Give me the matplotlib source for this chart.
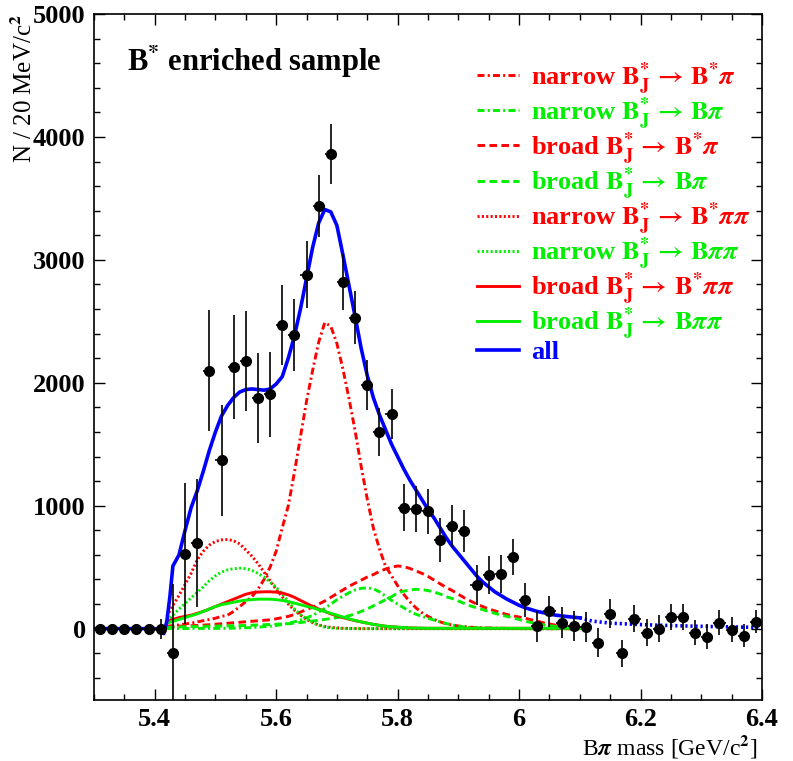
import matplotlib
matplotlib.use('Agg')
import matplotlib.pyplot as plt
import numpy as np

plt.rcParams['font.family'] = ['Liberation Serif', 'DejaVu Serif']
plt.rcParams['font.weight'] = 'bold'
plt.rcParams['mathtext.fontset'] = 'stix'

# --- data points, 20 MeV bins ---
bin_x = np.linspace(5.31, 6.39, 55)
counts = [0, 0, 0, 0, 0, 0, -200, 610, 700, 2100,
          1370, 2130, 2175, 1875, 1905, 2470, 2385, 2880, 3440, 3860,
          2820, 2530, 1985, 1600, 1745, 985, 975, 955, 720, 832,
          795, 355, 433, 442, 585, 236, 18, 140, 49, 24,
          16, -114, 122, -200, 81, -33, 0, 98, 98, -33,
          -65, 49, -8, -57, 57]
errors = [0, 0, 0, 0, 0, 80, 560, 575, 520, 495,
          450, 425, 408, 367, 345, 323, 293, 272, 253, 245,
          226, 214, 204, 197, 203, 190, 188, 185, 178, 170,
          168, 160, 155, 155, 147, 138, 127, 127, 127, 122,
          122, 117, 120, 108, 110, 110, 110, 105, 105, 100,
          100, 100, 100, 95, 95]

# --- fit components, sampled every 10 MeV from 5.42 to 6.10 ---
comp_x = np.linspace(5.42, 6.10, 69)
narrow_bstpi = [20, 25, 30, 38, 45, 55, 65, 75, 85, 100,
                110, 140, 180, 220, 260, 320, 400, 500, 630, 820,
                1000, 1270, 1560, 1850, 2100, 2330, 2490, 2460, 2320, 2110,
                1870, 1610, 1320, 1055, 820, 650, 510, 430, 350, 280,
                220, 170, 130, 100, 75, 55, 40, 30, 22, 16,
                12, 9, 7, 5, 4, 3, 2, 2, 1, 1,
                1, 1, 0, 0, 0, 0, 0, 0, 0]
narrow_bpi = [1, 1, 1, 1, 2, 2, 2, 2, 2, 3,
              3, 4, 5, 7, 9, 12, 16, 20, 26, 34,
              44, 56, 70, 88, 108, 135, 165, 200, 235, 265,
              292, 315, 328, 332, 325, 300, 265, 230, 200, 170,
              140, 118, 100, 85, 70, 55, 42, 30, 20, 14,
              10, 7, 5, 3, 2, 1, 1, 0, 0, 0,
              0, 0, 0, 0, 0, 0, 0, 0, 0]
broad_bstpi = [15, 18, 20, 22, 24, 26, 29, 32, 36, 40,
               44, 48, 52, 56, 60, 64, 68, 72, 80, 90,
               100, 115, 135, 155, 175, 200, 225, 255, 285, 315,
               345, 370, 395, 420, 440, 465, 485, 500, 510, 505,
               490, 470, 450, 425, 395, 365, 335, 310, 280, 250,
               225, 200, 180, 160, 145, 130, 115, 103, 95, 85,
               72, 60, 48, 38, 28, 20, 12, 6, 2]
broad_bpi = [10, 12, 14, 16, 17, 18, 19, 20, 21, 22,
             23, 24, 25, 26, 28, 30, 32, 34, 36, 38,
             40, 45, 50, 56, 62, 68, 75, 82, 90, 97,
             105, 120, 140, 160, 185, 210, 235, 260, 290, 305,
             315, 320, 318, 310, 298, 282, 260, 245, 225, 205,
             185, 170, 155, 140, 125, 112, 100, 88, 75, 60,
             50, 40, 32, 24, 18, 12, 7, 3, 1]
narrow_bstpipi = [100, 190, 270, 360, 450, 560, 630, 680, 710, 722,
                  725, 715, 690, 640, 590, 530, 460, 390, 320, 260,
                  200, 150, 110, 75, 50, 30, 18, 10, 6, 3,
                  2, 1, 0, 0, 0, 0, 0, 0, 0, 0,
                  0, 0, 0, 0, 0, 0, 0, 0, 0, 0,
                  0, 0, 0, 0, 0, 0, 0, 0, 0, 0,
                  0, 0, 0, 0, 0, 0, 0, 0, 0]
narrow_bpipi = [60, 110, 160, 205, 250, 295, 340, 390, 430, 460,
                478, 488, 492, 488, 475, 450, 420, 380, 335, 285,
                220, 160, 115, 80, 50, 28, 12, 6, 3, 1,
                0, 0, 0, 0, 0, 0, 0, 0, 0, 0,
                0, 0, 0, 0, 0, 0, 0, 0, 0, 0,
                0, 0, 0, 0, 0, 0, 0, 0, 0, 0,
                0, 0, 0, 0, 0, 0, 0, 0, 0]
broad_bstpipi = [60, 75, 90, 100, 110, 125, 140, 160, 180, 200,
                 220, 240, 260, 280, 292, 298, 300, 300, 297, 290,
                 275, 255, 230, 205, 182, 160, 140, 120, 105, 90,
                 77, 65, 55, 45, 35, 27, 20, 15, 12, 9,
                 6, 5, 4, 3, 3, 3, 3, 3, 3, 3,
                 3, 3, 3, 3, 3, 3, 3, 3, 3, 3,
                 3, 3, 3, 3, 3, 3, 3, 3, 3]
broad_bpipi = [45, 60, 75, 90, 105, 120, 140, 160, 180, 195,
               205, 215, 225, 232, 236, 240, 240, 240, 236, 230,
               220, 208, 195, 182, 170, 155, 140, 125, 110, 95,
               80, 67, 55, 45, 35, 27, 20, 15, 12, 9,
               6, 5, 4, 3, 3, 3, 3, 3, 3, 3,
               3, 3, 3, 3, 3, 3, 3, 3, 3, 3,
               3, 3, 3, 3, 3, 3, 3, 3, 3]

# --- total fit ---
all_x = np.concatenate([np.linspace(5.30, 5.41, 12), [5.415, 5.42, 5.425],
                        np.linspace(5.43, 6.10, 68)])
all_y = [0, 0, 0, 0, 0, 0, 0, 0, 0, 0, 0, -10,
         -40, 60, 260,
         510, 600, 800, 985, 1120, 1280, 1450, 1600, 1730, 1815,
         1880, 1925, 1945, 1950, 1945, 1940, 1950, 1990, 2050, 2200,
         2380, 2600, 2850, 3100, 3300, 3410, 3390, 3280, 3040, 2790,
         2540, 2280, 2060, 1880, 1740, 1620, 1500, 1400, 1300, 1210,
         1130, 1050, 970, 900, 820, 740, 670, 610, 550, 490,
         430, 380, 340, 300, 270, 240, 215, 190, 170, 155,
         140, 130, 120, 110, 104, 98, 93, 88]
tail_x = [6.10, 6.12, 6.15, 6.20, 6.25, 6.30, 6.35, 6.40]
tail_y = [88, 62, 45, 33, 25, 19, 14, 10]

RED, GREEN, BLUE = '#ff0000', '#00ee00', '#0000ff'
dashdot = (2.4, 1.1, 0.7, 1.1)
dashed = (2.6, 1.5)
dotted = (0.7, 0.8)

fig = plt.figure(figsize=(7.93, 7.61), dpi=100)
ax = fig.add_axes([0.1185, 0.0802, 0.8424, 0.9014])

lw = 2.1
curves = [
    (narrow_bstpi, RED, dashdot, r'narrow $\mathbf{B}_\mathbf{J}^{*}\,\rightarrow\,\mathbf{B}^{*}\pi$'),
    (narrow_bpi, GREEN, dashdot, r'narrow $\mathbf{B}_\mathbf{J}^{*}\,\rightarrow\,\mathbf{B}\pi$'),
    (broad_bstpi, RED, dashed, r'broad $\mathbf{B}_\mathbf{J}^{*}\,\rightarrow\,\mathbf{B}^{*}\pi$'),
    (broad_bpi, GREEN, dashed, r'broad $\mathbf{B}_\mathbf{J}^{*}\,\rightarrow\,\mathbf{B}\pi$'),
    (narrow_bstpipi, RED, dotted, r'narrow $\mathbf{B}_\mathbf{J}^{*}\,\rightarrow\,\mathbf{B}^{*}\pi\pi$'),
    (narrow_bpipi, GREEN, dotted, r'narrow $\mathbf{B}_\mathbf{J}^{*}\,\rightarrow\,\mathbf{B}\pi\pi$'),
    (broad_bstpipi, RED, None, r'broad $\mathbf{B}_\mathbf{J}^{*}\,\rightarrow\,\mathbf{B}^{*}\pi\pi$'),
    (broad_bpipi, GREEN, None, r'broad $\mathbf{B}_\mathbf{J}^{*}\,\rightarrow\,\mathbf{B}\pi\pi$'),
]
handles = []
for yv, col, dash, lab in curves:
    if dash is None:
        h, = ax.plot(comp_x, yv, color=col, lw=lw, label=lab)
    else:
        h, = ax.plot(comp_x, yv, color=col, lw=lw, dashes=dash, label=lab)
    handles.append(h)

h_all, = ax.plot(all_x, all_y, color=BLUE, lw=2.6, label='all')
ax.plot(tail_x, tail_y, color=BLUE, lw=2.6, dashes=(0.6, 0.8))
handles.append(h_all)

ax.errorbar(bin_x, counts, yerr=errors, xerr=0.01, fmt='o', color='black',
            ms=7, elinewidth=1.2, capsize=0, zorder=5)

ax.set_xlim(5.3, 6.4)
ax.set_ylim(-580, 5000)
ax.set_xticks([5.4, 5.6, 5.8, 6.0, 6.2, 6.4])
ax.set_xticklabels(['5.4', '5.6', '5.8', '6', '6.2', '6.4'])
ax.set_xticks(np.arange(5.3, 6.41, 0.05), minor=True)
ax.set_yticks([0, 1000, 2000, 3000, 4000, 5000])
ax.set_yticks(np.arange(-400, 5001, 200), minor=True)
ax.tick_params(which='both', direction='in', top=True, right=True, width=1.0)
ax.tick_params(which='major', length=8, labelsize=19, pad=6)
ax.tick_params(which='minor', length=4.5)
for s in ax.spines.values():
    s.set_linewidth(1.2)

ax.set_xlabel(r'B$\pi$ mass [GeV/c$^2$]', fontsize=17, loc='right')
ax.xaxis.set_label_coords(0.9925, -0.048)
ax.set_ylabel(r'N / 20 MeV/c$^2$', fontsize=18, loc='top', labelpad=-3)

ax.text(0.05, 0.93, r'B$^{*}$ enriched sample', transform=ax.transAxes,
        fontsize=22, fontweight='bold', va='center')

ax.legend(handles=handles, loc='upper left', bbox_to_anchor=(0.554, 0.952),
          frameon=False, labelcolor='linecolor', handlelength=1.6,
          handletextpad=0.45, borderpad=0, labelspacing=-0.05,
          prop={'family': 'Liberation Serif', 'weight': 'bold', 'size': 19})

fig.savefig('out.png', dpi=100)
